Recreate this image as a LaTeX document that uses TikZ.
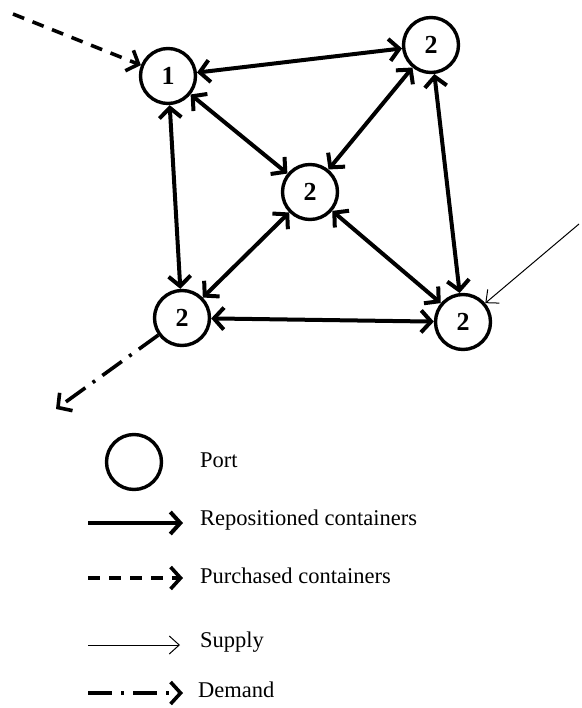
\documentclass[tikz,border=0pt]{standalone}
\usepackage{fontspec}
\setmainfont{Liberation Serif}
\usetikzlibrary{arrows.meta}
\begin{document}
\begin{tikzpicture}[x=1pt,y=-1pt,
  port/.style={circle,draw,line width=3.4pt,minimum size=55pt,inner sep=0pt,font=\fontsize{26}{28}\selectfont\bfseries},
  tipb/.tip={Straight Barb[length=10pt,width=22pt]},
  tipt/.tip={Straight Barb[length=10pt,width=18pt,line width=1pt]},
  rep/.style={line width=4pt,tipb-tipb},
  repone/.style={line width=4pt,-tipb},
  purch/.style={line width=3.6pt,dash pattern=on 12pt off 9pt,-tipb},
  supply/.style={line width=1pt,-tipt},
  demand/.style={line width=3.6pt,dash pattern=on 24pt off 9pt on 3pt off 9pt,-tipb},
  lbl/.style={anchor=west,inner sep=0pt,font=\fontsize{22.5}{25}\selectfont}]
\useasboundingbox (0,0) rectangle (581,708);
\node[port] (n1) at (168,76) {1};
\node[port] (n2) at (431,45) {2};
\node[port] (n3) at (310,192) {2};
\node[port] (n4) at (182,318) {2};
\node[port] (n5) at (463,322) {2};
\draw[rep] (n1) -- (n2);
\draw[rep] (n1) -- (n3);
\draw[rep] (n1) -- (n4);
\draw[rep] (n2) -- (n3);
\draw[rep] (n2) -- (n5);
\draw[rep] (n3) -- (n4);
\draw[rep] (n3) -- (n5);
\draw[rep] (n4) -- (n5);
\coordinate (ps) at (13,14);
\draw[purch] (ps) -- (n1);
\coordinate (ss) at (579,224);
\draw[supply] (ss) -- (n5);
\coordinate (de) at (56,409);
\draw[demand] (n4) -- (de);
% legend
\node[port] (lp) at (134,462) {};
\node[lbl] (tp) at (200,460) {Port};
\coordinate (r1) at (88,523); \coordinate (r2) at (183,523);
\draw[repone] (r1) -- (r2);
\node[lbl] (tr) at (200,520) {Repositioned containers};
\coordinate (p1) at (88,578); \coordinate (p2) at (183,578);
\draw[purch] (p1) -- (p2);
\node[lbl] (tpu) at (200,576) {Purchased containers};
\coordinate (s1) at (88,645); \coordinate (s2) at (180,645);
\draw[supply] (s1) -- (s2);
\node[lbl] (ts) at (200,642) {Supply};
\coordinate (d1) at (88,693); \coordinate (d2) at (183,693);
\draw[demand] (d1) -- (d2);
\node[lbl] (td) at (198,690) {Demand};
\end{tikzpicture}
\end{document}
